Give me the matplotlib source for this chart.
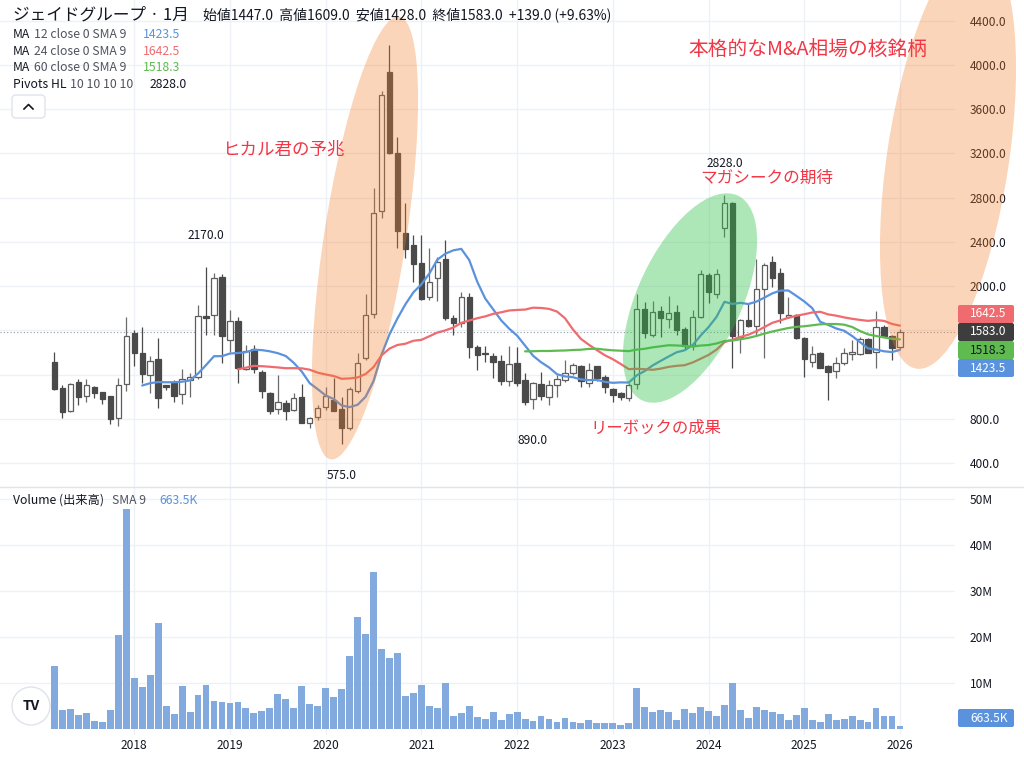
import numpy as np
import pandas as pd
import matplotlib
matplotlib.use('Agg')
import matplotlib.pyplot as plt
from matplotlib.patches import Ellipse, FancyBboxPatch, Circle
from matplotlib.lines import Line2D

plt.rcParams['font.family'] = ['Noto Sans CJK JP', 'DejaVu Sans']

# ---------------- data (monthly, 2017-03 .. 2026-01) ----------------
title = "ジェイドグループ · 1月"
start_month = "2017-03"

opens = [1311, 1076, 873, 1130, 1006, 1087, 1039, 1003, 810, 1115,
         1579, 1395, 1199, 1341, 1106, 1124, 1021, 1151, 1181, 1730,
         1739, 2080, 1512, 1687, 1247, 1429, 1226, 1030, 886, 945,
         879, 1000, 765, 819, 909, 970, 886, 714, 1051, 1347,
         1745, 2679, 3934, 3201, 2478, 2372, 2212, 1899, 2071, 2243,
         1715, 1664, 1905, 1447, 1392, 1371, 1325, 1141, 1302, 1151,
         976, 1111, 1000, 1106, 1151, 1217, 1280, 1126, 1277, 1181,
         1067, 1030, 985, 1112, 1790, 1558, 1777, 1699, 1763, 1612,
         1467, 1724, 2101, 1929, 2523, 2755, 1537, 1693, 1639, 1971,
         2215, 2116, 1718, 1739, 1528, 1316, 1392, 1277, 1235, 1302,
         1389, 1386, 1519, 1401, 1627, 1551, 1447]
highs = [1401, 1110, 1126, 1157, 1157, 1099, 1045, 1010, 1172, 1721,
         1603, 1627, 1371, 1528, 1110, 1151, 1250, 1211, 1829, 2170,
         2116, 2107, 1784, 1723, 1467, 1467, 1241, 1045, 1196, 970,
         1036, 1115, 819, 925, 1090, 1172, 1000, 1090, 1398, 1926,
         2885, 3765, 4181, 3351, 2749, 2462, 2462, 2342, 2261, 2417,
         1739, 1949, 1941, 1467, 1461, 1392, 1377, 1458, 1452, 1217,
         1135, 1226, 1151, 1196, 1332, 1302, 1286, 1302, 1280, 1196,
         1076, 1045, 1121, 1929, 1859, 1868, 1820, 1913, 1829, 1633,
         1784, 2146, 2116, 2155, 2828, 2760, 1700, 1844, 2243, 2206,
         2272, 2161, 1899, 1748, 1543, 1458, 1407, 1286, 1356, 1437,
         1512, 1537, 1528, 1775, 1648, 1558, 1609]
lows = [1060, 804, 864, 925, 954, 985, 931, 750, 737, 1054,
        1277, 1121, 1030, 895, 1060, 949, 931, 1000, 1157, 1558,
        1558, 1302, 1407, 1121, 1241, 1211, 985, 840, 840, 789,
        870, 760, 714, 789, 879, 870, 575, 698, 1030, 1332,
        1709, 2619, 3195, 2342, 2252, 2040, 1874, 1874, 1865, 1693,
        1558, 1633, 1347, 1241, 1316, 1166, 1106, 1097, 1099, 925,
        890, 970, 925, 1000, 1135, 1196, 1090, 1090, 1144, 1036,
        954, 970, 963, 1067, 1528, 1537, 1537, 1618, 1558, 1422,
        1422, 1709, 1850, 1890, 2442, 1257, 1398, 1627, 1560, 1347,
        1995, 1664, 1712, 1522, 1181, 1271, 1256, 970, 1166, 1286,
        1332, 1377, 1392, 1257, 1543, 1332, 1428]
closes = [1069, 861, 1115, 997, 1103, 1036, 979, 798, 1103, 1546,
          1398, 1205, 1323, 985, 1090, 1003, 1157, 1178, 1727, 1709,
          2071, 1549, 1687, 1257, 1416, 1247, 1051, 873, 954, 870,
          990, 765, 804, 900, 1006, 873, 714, 1067, 1302, 1739,
          2664, 3726, 3201, 2498, 2336, 2197, 1881, 2040, 2221, 1709,
          1669, 1899, 1450, 1377, 1383, 1316, 1145, 1295, 1121, 955,
          1121, 1009, 1106, 1157, 1217, 1286, 1144, 1241, 1166, 1086,
          1015, 1000, 1106, 1790, 1574, 1768, 1709, 1759, 1604, 1457,
          1724, 2110, 1949, 2107, 2749, 1553, 1693, 1640, 1970, 2191,
          2071, 1754, 1739, 1530, 1341, 1383, 1262, 1220, 1302, 1392,
          1401, 1519, 1398, 1627, 1551, 1444, 1583]
volume_m = [13.7, 4.1, 4.3, 3.1, 3.4, 1.8, 1.6, 4.2, 20.4, 47.8,
            11.1, 9.2, 11.8, 23.0, 5.1, 3.3, 9.3, 3.6, 7.5, 9.6,
            6.1, 5.9, 5.6, 5.9, 4.6, 3.4, 4.0, 4.5, 7.7, 6.6,
            4.6, 9.3, 5.5, 5.0, 9.0, 6.9, 8.6, 15.9, 24.3, 20.7,
            34.1, 17.3, 15.4, 16.5, 7.2, 7.8, 9.6, 5.0, 4.5, 10.0,
            2.8, 3.5, 5.1, 2.6, 2.2, 3.6, 2.0, 3.3, 3.7, 2.2,
            1.8, 2.8, 2.1, 1.6, 2.3, 1.5, 1.3, 2.0, 1.2, 1.2,
            1.3, 0.9, 1.2, 9.0, 4.8, 3.6, 4.1, 3.6, 2.0, 4.3,
            3.4, 4.8, 4.0, 2.8, 5.2, 9.9, 4.2, 2.5, 4.7, 4.1,
            3.6, 3.3, 2.0, 3.0, 4.5, 2.0, 1.5, 3.3, 2.0, 2.1,
            2.8, 2.0, 1.5, 4.5, 2.8, 2.8, 0.6635]

price_ticks = [400, 800, 1200, 1600, 2000, 2400, 2800, 3200, 3600, 4000, 4400]
hidden_price_labels = [1200, 1600]   # covered by the value tags in the reference
volume_ticks = [10, 20, 30, 40, 50]
year_labels = ["2018", "2019", "2020", "2021", "2022", "2023", "2024", "2025", "2026"]
ma_lengths = [12, 24, 60]
pivot_high_months = ["2018-10", "2024-03"]
pivot_low_months = ["2020-03", "2022-03"]
notes = ["ヒカル君の予兆", "マガシークの期待", "リーボックの成果", "本格的なM&A相場の核銘柄"]

# ---------------- derived ----------------
months = pd.period_range(start_month, periods=len(closes), freq="M")
x = np.arange(1, len(closes) + 1)
o, h, l, c = (np.array(v, dtype=float) for v in (opens, highs, lows, closes))
vol = np.array(volume_m, dtype=float)
s = pd.Series(c)
mas = {n: s.rolling(n).mean().to_numpy() for n in ma_lengths}

def month_x(m):
    return x[list(months.strftime("%Y-%m")).index(m)]

year_x = [month_x(f"{y}-01") for y in year_labels]

# ---------------- figure layout (pixels) ----------------
W, H = 1024, 763
PLOT_R, MAIN_B, VOL_B = 955, 487, 735
fig = plt.figure(figsize=(W / 100, H / 100), dpi=100)
fig.patch.set_facecolor("white")

def fx(px):
    return px / W

def fy(py):
    return 1 - py / H

ax = fig.add_axes([0, fy(MAIN_B), fx(PLOT_R), MAIN_B / H])
axv = fig.add_axes([0, fy(VOL_B), fx(PLOT_R), (VOL_B - MAIN_B) / H])

TXT = "#131722"
SUB = "#50535e"
GRID = "#eef1f6"
BLUE, RED, GREEN = "#5a92de", "#ef6b6f", "#5fbb50"
for a in (ax, axv):
    for sp in a.spines.values():
        sp.set_visible(False)
    a.set_facecolor("none")
    a.set_xlim(-5.83, 113.9)
    a.yaxis.tick_right()
    a.set_xticks(year_x)
    a.tick_params(axis="both", length=0, colors=TXT, labelsize=8.6)
    a.tick_params(axis="y", pad=10.8)
    a.grid(True, color=GRID, linewidth=1.0)
    a.set_axisbelow(True)

ax.set_ylim(182.9, 4587.8)
ax.set_yticks(price_ticks)
ax.set_yticklabels(["" if v in hidden_price_labels else f"{v:.1f}" for v in price_ticks])
ax.tick_params(axis="x", labelbottom=False)

axv.set_ylim(-1.304, 52.61)
axv.set_yticks(volume_ticks)
axv.set_yticklabels([f"{v}M" for v in volume_ticks])
axv.set_xticklabels(year_labels)
axv.tick_params(axis="x", pad=3)

# ---------------- candles ----------------
up = c >= o
ax.vlines(x[up], l[up], h[up], colors="#6b6b6b", linewidth=0.9, zorder=2)
ax.vlines(x[~up], l[~up], h[~up], colors="#4a4a4a", linewidth=0.9, zorder=2)
body_bot = np.minimum(o, c)
body_h = np.maximum(np.abs(c - o), 8)
ax.bar(x[up], body_h[up], bottom=body_bot[up], width=0.68, facecolor="white",
       edgecolor="#5d5d5d", linewidth=0.9, zorder=2.05)
ax.bar(x[~up], body_h[~up], bottom=body_bot[~up], width=0.68, facecolor="#4a4a4a",
       edgecolor="#4a4a4a", linewidth=0.9, zorder=2.05)

# moving averages
for n, col in zip(ma_lengths, (BLUE, RED, GREEN)):
    ax.plot(x, mas[n], color=col, linewidth=1.6, zorder=2.2, solid_capstyle="round")

# last price dotted line
ax.axhline(c[-1], color="#9598a1", linestyle=(0, (1, 2)), linewidth=0.8, zorder=1.8)

# pivot labels
for m in pivot_high_months:
    i = month_x(m) - 1
    ax.annotate(f"{h[i]:.1f}", (x[i], h[i]), xytext=(0, 22.7), textcoords="offset points",
                ha="center", va="center", fontsize=8.6, color=TXT, zorder=3)
for m in pivot_low_months:
    i = month_x(m) - 1
    ax.annotate(f"{l[i]:.1f}", (x[i], l[i]), xytext=(0, -22.7), textcoords="offset points",
                ha="center", va="center", fontsize=8.6, color=TXT, zorder=3)

# highlight ellipses (pixel geometry)
def px_ellipse(cx, cy, minor, major, tilt, color, alpha):
    e = Ellipse((cx / 100, (H - cy) / 100), 2 * minor / 100, 2 * major / 100, angle=-tilt,
                transform=fig.dpi_scale_trans, facecolor=color, edgecolor="none",
                alpha=alpha, zorder=2.4, clip_on=False)
    ax.add_patch(e)

px_ellipse(365, 238, 41, 224, 8.8, "#f57d26", 0.32)
px_ellipse(690, 298, 52, 113, 25, "#2cc043", 0.38)
px_ellipse(948, 158, 61, 213, 8.5, "#f57d26", 0.32)

# volume bars
axv.bar(x, vol, width=0.86, color="#82aadf", edgecolor="none", zorder=2)

# separator between panes
fig.add_artist(Line2D([0, 1], [fy(MAIN_B), fy(MAIN_B)], color="#e0e3eb", linewidth=1.0))

# ---------------- header / legends ----------------
fig.text(fx(13), fy(15), title, fontsize=12, color=TXT, va="center", ha="left")
chg = c[-1] - c[-2]
pct = chg / c[-2] * 100
ohlc = (f"始値{o[-1]:.1f}  高値{h[-1]:.1f}  安値{l[-1]:.1f}  終値{c[-1]:.1f}  "
        f"{chg:+.1f} ({pct:+.2f}%)")
fig.text(fx(203), fy(15), ohlc, fontsize=10, color=TXT, va="center", ha="left")

LFS = 8.8
for row, (n, col) in enumerate(zip(ma_lengths, (BLUE, RED, GREEN))):
    yy = 35 + row * 16.3
    fig.text(fx(13), fy(yy), "MA", fontsize=LFS, color=TXT, va="center")
    fig.text(fx(34), fy(yy), f"{n} close 0 SMA 9", fontsize=LFS, color=SUB, va="center")
    fig.text(fx(143), fy(yy), f"{mas[n][-1]:.1f}", fontsize=LFS, color=col, va="center")
fig.text(fx(13), fy(84), "Pivots HL", fontsize=LFS, color=TXT, va="center")
fig.text(fx(70), fy(84), "10 10 10 10", fontsize=LFS, color=SUB, va="center")
fig.text(fx(150), fy(84), f"{h[month_x(pivot_high_months[-1]) - 1]:.1f}",
         fontsize=LFS, color=TXT, va="center")

# collapse button
fig.add_artist(FancyBboxPatch((12 / 100, (H - 118) / 100), 0.33, 0.23,
                              boxstyle="round,pad=0,rounding_size=0.04",
                              transform=fig.dpi_scale_trans, facecolor="white",
                              edgecolor="#e0e3eb", linewidth=1.0, zorder=5))
fig.add_artist(Line2D([fx(24), fx(28.5), fx(33)], [fy(109), fy(104.5), fy(109)],
                      color=TXT, linewidth=1.2, zorder=6))

fig.text(fx(13), fy(500), "Volume (出来高)", fontsize=LFS, color=TXT, va="center")
fig.text(fx(112), fy(500), "SMA 9", fontsize=LFS, color=SUB, va="center")
fig.text(fx(159), fy(500), f"{vol[-1] * 1000:.1f}K", fontsize=LFS, color=BLUE, va="center")

# annotations
note_pos = [(222, 150, 12.6), (700, 178, 12), (590, 428, 11.8), (688, 50, 14.2)]
for t, (px, py, fs) in zip(notes, note_pos):
    fig.text(fx(px), fy(py), t, fontsize=fs, color="#f23645", va="center", ha="left")

# right-scale value tags
def tag(py, text, face, tcol):
    fig.add_artist(FancyBboxPatch((958 / 100, (H - py - 9) / 100), 0.56, 0.18,
                                  boxstyle="round,pad=0,rounding_size=0.02",
                                  transform=fig.dpi_scale_trans, facecolor=face,
                                  edgecolor="none", zorder=5))
    fig.text(fx(970), fy(py), text, fontsize=8.6, color=tcol, va="center", ha="left", zorder=6)

tag(314, f"{mas[24][-1]:.1f}", RED, "white")
tag(332, f"{c[-1]:.1f}", "#3d3d3d", "white")
tag(350, f"{mas[60][-1]:.1f}", GREEN, TXT)
tag(368, f"{mas[12][-1]:.1f}", BLUE, "white")
tag(718, f"{vol[-1] * 1000:.1f}K", BLUE, "white")

# logo badge
fig.add_artist(Circle((31 / 100, (H - 706) / 100), 0.19, transform=fig.dpi_scale_trans,
                      facecolor="white", edgecolor="#e0e3eb", linewidth=1.0, zorder=5))
fig.text(fx(31), fy(706), "TV", fontsize=10, fontweight="bold", color=TXT,
         va="center", ha="center", zorder=6)

fig.savefig("out.png", dpi=100, facecolor="white")
